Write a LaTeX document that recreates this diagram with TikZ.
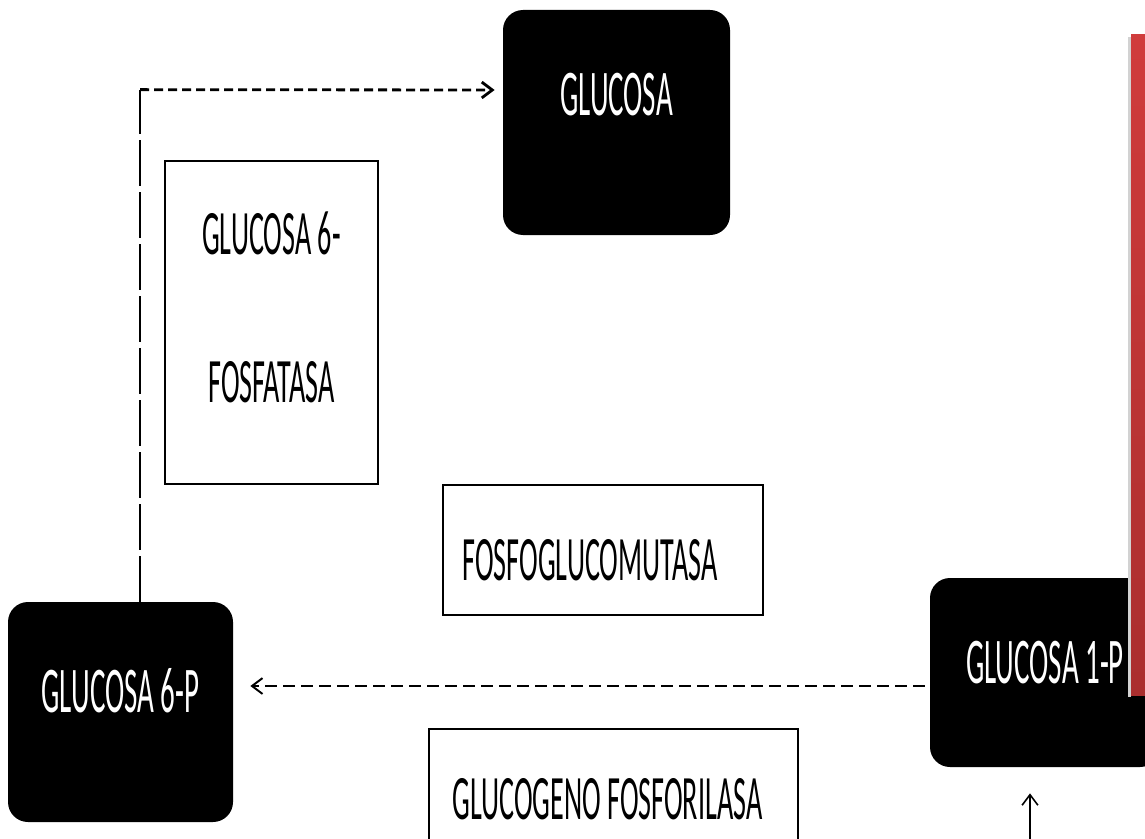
\documentclass[tikz,border=0pt]{standalone}
\usepackage{fontspec}
\setmainfont{Carlito}
\usepackage{graphicx}
\usetikzlibrary{calc,arrows.meta}
\newlength\pix
\setlength\pix{0.02cm}
\newcommand{\tall}[1]{\scalebox{1}[2.25]{#1}}

\tikzset{
  blackbox/.style={fill=black, rounded corners=20\pix, inner sep=0pt},
  whitebox/.style={draw=black, line width=1.4pt, fill=white, inner sep=0pt},
  txtw/.style={text=white, font=\fontsize{16.5}{19}\selectfont},
  txtb/.style={text=black, font=\fontsize{16}{19}\selectfont},
  flowdash/.style={line width=1.1pt, dash pattern=on 12\pix off 6\pix},
}

\begin{document}
\begin{tikzpicture}[x=\pix, y=-\pix, >={Straight Barb[length=6pt,width=9pt]}]
  \useasboundingbox (0,0) rectangle (1145,838);

  % substrates
  \node[blackbox, minimum width=227\pix, minimum height=225\pix,
        label={[txtw,yshift=28\pix]center:\tall{GLUCOSA}}] (glucosa) at (616.5,122.5) {};
  \node[blackbox, minimum width=225\pix, minimum height=220\pix,
        label={[txtw,yshift=21\pix]center:\tall{GLUCOSA 6-P}}] (g6p) at (120.5,712) {};
  \node[blackbox, minimum width=230\pix, minimum height=189\pix,
        label={[txtw,yshift=10\pix]center:\tall{GLUCOSA 1-P}}] (g1p) at (1045,672.5) {};

  % enzymes
  \node[whitebox, minimum width=213\pix, minimum height=323\pix,
        label={[txtb,yshift=89.5\pix]center:\tall{GLUCOSA 6-}},
        label={[txtb,yshift=-59.5\pix]center:\tall{FOSFATASA}}] (fosfatasa) at (271.5,322.5) {};
  \node[whitebox, minimum width=320\pix, minimum height=130\pix,
        label={[txtb,xshift=-13\pix,yshift=-10\pix]center:\tall{FOSFOGLUCOMUTASA}}] (mutasa) at (603,550) {};
  \node[whitebox, minimum width=369\pix, minimum height=176\pix,
        label={[txtb,xshift=-6\pix,yshift=18\pix]center:\tall{GLUCOGENO FOSFORILASA}}] (fosforilasa) at (613.5,817) {};

  % red bar at the right edge
  \fill[gray!35] (1128,37) rectangle (1131,697);
  \fill[top color={rgb,255:red,208;green,60;blue,60}, bottom color={rgb,255:red,170;green,46;blue,46}]
    (1131,35) rectangle (1160,695);

  % connectors
  \coordinate (bend) at ($(g6p.north)+(19.5,-512)$);
  \draw[line width=0.9pt, dash pattern=on 46\pix off 6\pix] ($(g6p.north)+(19.5,0)$) -- (bend);
  \draw[->, line width=1.6pt, dash pattern=on 9\pix off 5\pix] (bend) -- ($(glucosa.west)+(-8,-32.5)$);
  \draw[->, flowdash] ($(g1p.west)+(-5,13.5)$) -- ($(g1p.west -| g6p.east)+(17,13.5)$);
  \coordinate (glucogeno) at (1030,845);
  \draw[->, line width=0.9pt] (glucogeno) -- ($(g1p.south)+(-15,26)$);
\end{tikzpicture}
\end{document}
